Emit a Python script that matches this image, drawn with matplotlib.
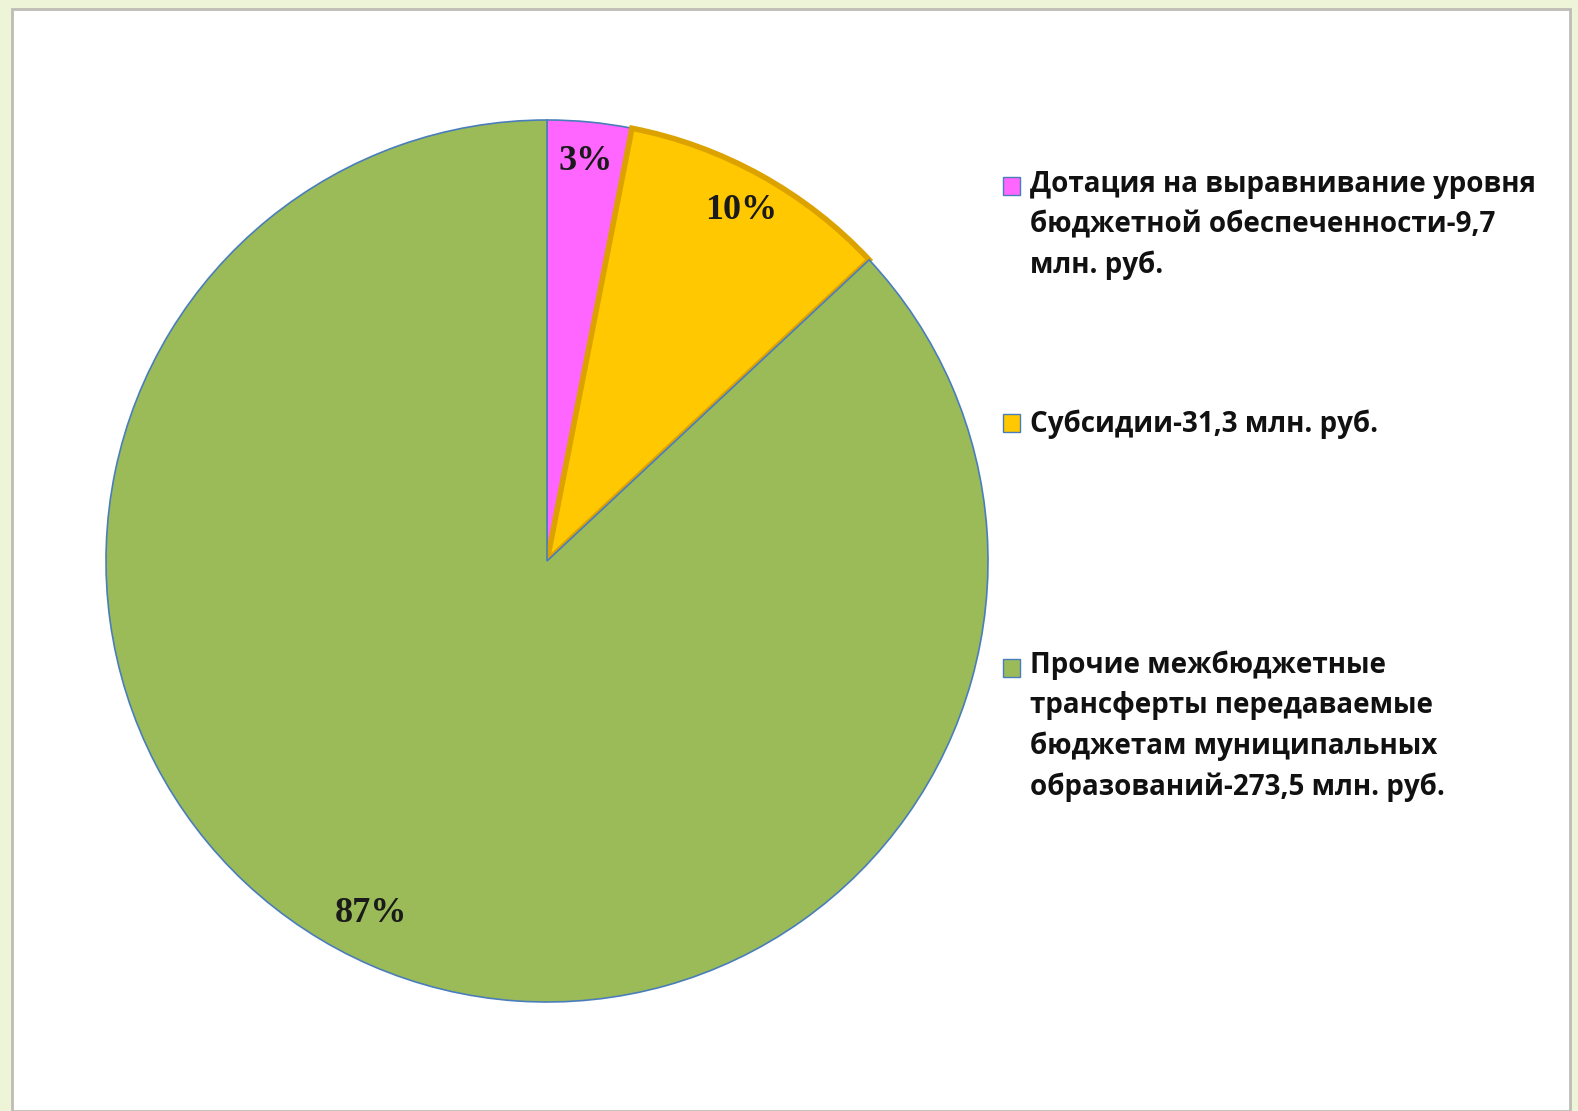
import matplotlib.pyplot as plt
from matplotlib.patches import Rectangle
from matplotlib.legend_handler import HandlerPatch

# budget transfers, mln rub
labels = ["Дотация на выравнивание уровня\nбюджетной обеспеченности-9,7\nмлн. руб.",
          "Субсидии-31,3 млн. руб.",
          "Прочие межбюджетные\nтрансферты передаваемые\nбюджетам муниципальных\nобразований-273,5 млн. руб."]
values = [9.7, 31.3, 273.5]
colors = ["#FF66FF", "#FFC800", "#9BBB59"]

W, H = 1578, 1111
fig = plt.figure(figsize=(W / 100, H / 100), dpi=100)
fig.patch.set_facecolor("#EEF4D8")

# white panel with grey frame
fig.patches.append(Rectangle((12 / W, 0), (1570 - 12) / W, (H - 9) / H,
                             transform=fig.transFigure, facecolor="white",
                             edgecolor="#BDBDB5", linewidth=2, zorder=-5))

cx, cy, r = 547, 561, 441
ax = fig.add_axes([(cx - r) / W, (H - cy - r) / H, 2 * r / W, 2 * r / H])
ax.set_zorder(2)
wedges, texts, autotexts = ax.pie(values, colors=colors, startangle=90, counterclock=False,
                                  autopct="%1.0f%%", pctdistance=0.91,
                                  wedgeprops=dict(edgecolor="#4A7EBB", linewidth=1.2),
                                  textprops=dict(family="Liberation Serif", fontweight="bold",
                                                 fontsize=26, color="#1A1A1A"))
wedges[1].set_edgecolor("#DCA200")
wedges[1].set_linewidth(4)
# the big slice label sits a bit further round, as in the original
autotexts[2].set_position((-0.40, -0.80))
ax.set_xlim(-1.0, 1.0)
ax.set_ylim(-1.0, 1.0)
ax.set_aspect("equal")
ax.axis("off")

FS = 20
LINE_PT = 28.8  # line step in points


def top_handle(nlines):
    # put the square next to the first line of a multi-line label
    def make(legend, orig_handle, xdescent, ydescent, width, height, fontsize):
        shift = (nlines - 1) / 2 * LINE_PT
        return Rectangle((-xdescent, -ydescent + shift), width, height)
    return HandlerPatch(patch_func=make)


# legend entries spaced like the original
centers = [180, 420, 661]
for w, lab, yc in zip(wedges, labels, centers):
    n = lab.count("\n") + 1
    h = Rectangle((0, 0), 1, 1, facecolor=w.get_facecolor(), edgecolor="#4A7EBB", linewidth=1)
    leg = fig.legend([h], [lab], loc="upper left", bbox_to_anchor=(1003 / W, 1 - (yc - 10) / H),
                     frameon=False, handlelength=0.61, handleheight=0.61, handletextpad=0.36,
                     borderpad=0, borderaxespad=0, handler_map={h: top_handle(n)},
                     prop=dict(family="Open Sans", weight="bold", size=FS))
    for t in leg.get_texts():
        t.set_linespacing(1.5)
        t.set_color("#111111")

fig.savefig("out.png", dpi=100, facecolor=fig.get_facecolor())
